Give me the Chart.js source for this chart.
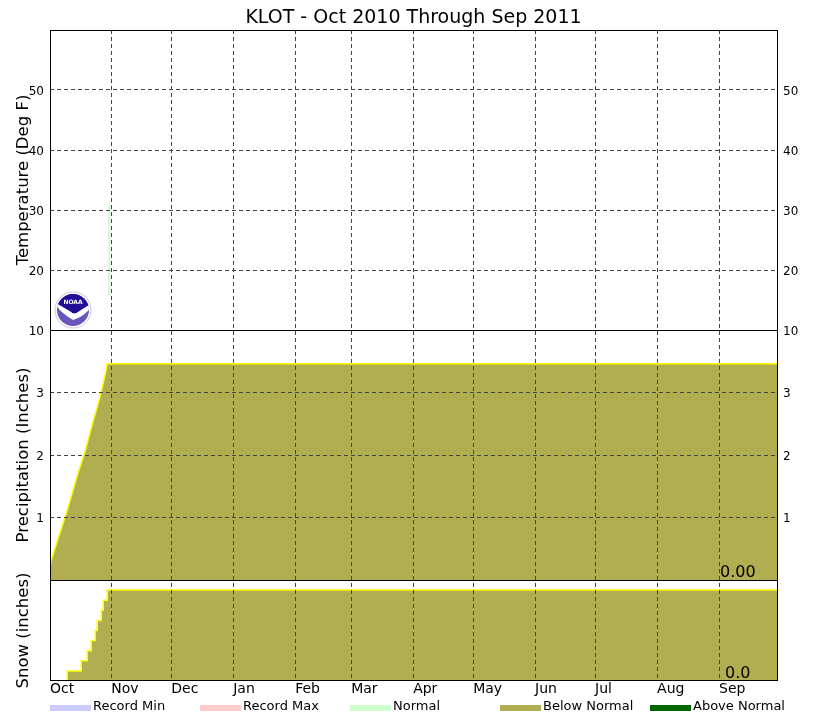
<!DOCTYPE html>
<html>
<head>
<meta charset="utf-8">
<title>KLOT climate summary</title>
<script src="https://cdn.jsdelivr.net/npm/chart.js@4"></script>
<style>
  body { margin: 0; background: #fff; font-family: "DejaVu Sans", sans-serif; }
  #wrap { position: relative; width: 827px; height: 720px; }
  #logo { position: absolute; left: 54px; top: 291px; }
  #legend { position: absolute; left: 50px; top: 698px; display: flex; font-size: 13px; color: #000; }
  .item { width: 150px; display: flex; white-space: nowrap; line-height: 15px; }
  .bar { width: 41px; height: 6px; margin: 7px 2px 0 0; }
</style>
</head>
<body>
<div id="wrap">
  <canvas id="myChart" width="827" height="720"></canvas>
  <svg id="logo" width="38" height="38" viewBox="0 0 38 38">
    <defs><clipPath id="disc"><circle cx="19" cy="19" r="16"/></clipPath></defs>
    <circle cx="19" cy="19" r="18" fill="#fff" stroke="#c9c5ea" stroke-width="1"/>
    <g clip-path="url(#disc)">
      <rect x="0" y="0" width="38" height="38" fill="#6a55bd"/>
      <path d="M0 0 H38 V12 Q30 17 24 21 Q20 24 17 21 Q11 17 0 11 Z" fill="#1f0f96"/>
      <path d="M0 11 Q11 17 17 21 Q20 24 24 21 Q30 17 38 12 V15 Q30 26 19 29 Q14 26 9 22 Q5 19 3 15 Z" fill="#fff"/>
    </g>
    <text x="19" y="12.5" font-size="6" font-weight="bold" fill="#fff" text-anchor="middle">NOAA</text>
  </svg>
  <div id="legend"></div>
</div>
<script>
// day of the water year for each month tick, the first one sits on the left edge of the axis
const monthDays = [0.35, 31, 61, 92, 123, 151, 182, 212, 243, 273, 304, 335];
const monthLabels = ['Oct', 'Nov', 'Dec', 'Jan', 'Feb', 'Mar', 'Apr', 'May', 'Jun', 'Jul', 'Aug', 'Sep'];

const tempTicks = [10, 20, 30, 40, 50];
const precipTicks = [1, 2, 3];

const normalDays = [30, 30];
const normalTemps = [15.8, 31.2];

const precipDays = [0.35, 1, 2, 3, 4, 5, 6, 7, 8, 9, 10, 11, 12, 13, 14, 15, 16, 17, 18, 19, 20, 21, 22, 23, 24, 25, 26, 27, 28, 29, 364];
const precipValues = [0.19, 0.32, 0.42, 0.52, 0.62, 0.72, 0.82, 0.92, 1.02, 1.12, 1.23, 1.34, 1.45, 1.56, 1.67, 1.77, 1.87, 1.97, 2.07, 2.19, 2.31, 2.43, 2.55, 2.66, 2.77, 2.89, 3.02, 3.15, 3.30, 3.46, 3.46];

const snowDays = [9, 9, 16, 19, 21, 23, 24, 26, 27, 29, 364];
const snowValues = [0, 1, 2, 3, 4, 5, 6, 7, 8, 9, 9];

const legendNames = ['Record Min', 'Record Max', 'Normal', 'Below Normal', 'Above Normal'];
const legendColors = ['#ccccff', '#ffcccc', '#ccffcc', '#b0ae50', '#006600'];

const points = (xs, ys) => xs.map((x, i) => ({ x: x, y: ys[i] }));

Chart.defaults.font.family = '"DejaVu Sans", sans-serif';
Chart.defaults.color = '#000';

const gridLines = {
  color: '#444',
  lineWidth: 1,
  drawTicks: false,
  z: 1
};

// y axes sit in one stack per side, so each panel gets its own band
function panelAxis(position, min, max, weight, ticks, titleText) {
  const left = position === 'left';
  return {
    type: 'linear',
    position: position,
    stack: 'panels',
    stackWeight: weight,
    min: min,
    max: max,
    border: { display: false, dash: [4, 3] },
    grid: left ? gridLines : { display: false, drawTicks: false },
    afterBuildTicks: (axis) => { axis.ticks = ticks.map((v) => ({ value: v })); },
    afterFit: (axis) => { axis.width = 50; },
    ticks: { font: { size: 12 }, padding: 6, autoSkip: false, labelOffset: 1.5 },
    title: { display: !!titleText, text: titleText, font: { size: 16.5 }, padding: { top: 14, bottom: 0 } }
  };
}

const panelFrame = {
  id: 'panelFrame',
  afterDraw(chart) {
    const { ctx, chartArea, scales } = chart;
    ctx.save();
    ctx.strokeStyle = '#000';
    ctx.lineWidth = 1;
    ctx.strokeRect(chartArea.left + 0.5, chartArea.top + 0.5, chartArea.width, chartArea.height - 1);
    [scales.yTemp.bottom, scales.yPrecip.bottom].forEach((y) => {
      ctx.beginPath();
      ctx.moveTo(chartArea.left, Math.round(y) + 0.5);
      ctx.lineTo(chartArea.right, Math.round(y) + 0.5);
      ctx.stroke();
    });
    ctx.fillStyle = '#000';
    ctx.font = '16px "DejaVu Sans"';
    ctx.textBaseline = 'alphabetic';
    ctx.textAlign = 'left';
    ctx.fillText('0.00', chartArea.right - 57, scales.yPrecip.bottom - 3);
    ctx.fillText('0.0', chartArea.right - 52, scales.ySnow.bottom - 3);
    ctx.restore();
  }
};

const config = {
  type: 'line',
  data: {
    datasets: [
      {
        label: 'Normal',
        data: points(normalDays, normalTemps),
        yAxisID: 'yTemp',
        borderColor: '#ccffcc',
        borderWidth: 2,
        pointRadius: 0
      },
      {
        label: 'Precipitation',
        data: points(precipDays, precipValues),
        yAxisID: 'yPrecip',
        borderColor: '#ffff00',
        borderWidth: 1.5,
        backgroundColor: '#b0ae50',
        fill: 'origin',
        pointRadius: 0
      },
      {
        label: 'Snow',
        data: points(snowDays, snowValues),
        yAxisID: 'ySnow',
        stepped: true,
        borderColor: '#ffff00',
        borderWidth: 1.5,
        backgroundColor: '#b0ae50',
        fill: 'origin',
        pointRadius: 0
      }
    ]
  },
  options: {
    responsive: false,
    animation: false,
    layout: { padding: 0 },
    plugins: {
      legend: { display: false },
      tooltip: { enabled: false },
      title: {
        display: true,
        text: 'KLOT - Oct 2010 Through Sep 2011',
        color: '#000',
        font: { size: 19, weight: 'normal' },
        padding: { top: 7, bottom: 0.2 }
      }
    },
    scales: {
      x: {
        type: 'linear',
        min: 0.35,
        max: 364,
        border: { display: false, dash: [4, 3] },
        grid: gridLines,
        afterBuildTicks: (axis) => { axis.ticks = monthDays.map((v) => ({ value: v })); },
        afterFit: (axis) => { axis.height = 39; },
        ticks: {
          autoSkip: false,
          maxRotation: 0,
          align: 'start',
          padding: 0,
          font: { size: 14 },
          callback: (value, index) => monthLabels[index]
        }
      },
      // left stack is laid out bottom-up, so the lowest panel comes first
      ySnow: panelAxis('left', 0, 10, 101, [], 'Snow (inches)'),
      yPrecip: panelAxis('left', 0, 4, 250, precipTicks, 'Precipitation (Inches)'),
      yTemp: panelAxis('left', 10, 60, 300, tempTicks, 'Temperature (Deg F)'),
      yTempRight: panelAxis('right', 10, 60, 300, tempTicks),
      yPrecipRight: panelAxis('right', 0, 4, 250, precipTicks),
      ySnowRight: panelAxis('right', 0, 10, 101, [])
    }
  },
  plugins: [panelFrame]
};

const myChart = new Chart(document.getElementById('myChart'), config);

document.getElementById('legend').innerHTML = legendNames.map((name, i) =>
  '<div class="item"><span class="bar" style="background:' + legendColors[i] + '"></span>' + name + '</div>'
).join('');
</script>
</body>
</html>
